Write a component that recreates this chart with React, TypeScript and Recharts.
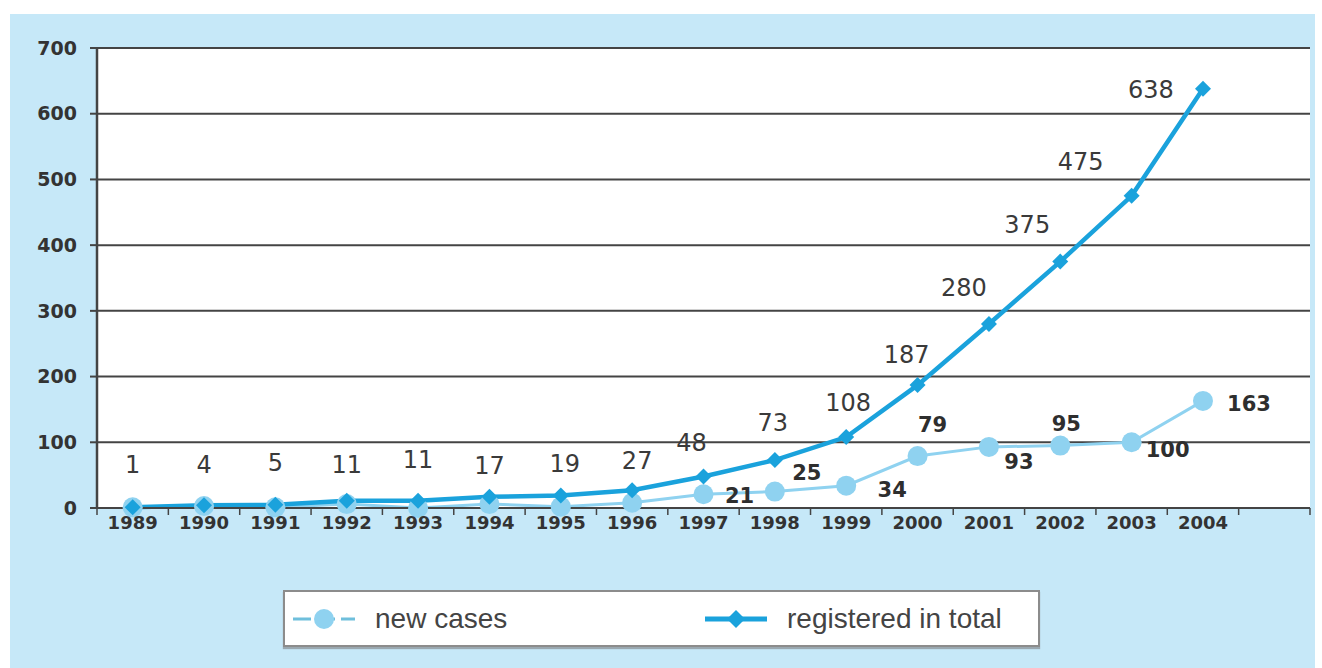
import React from 'react';
import { LineChart, Line, XAxis, YAxis, CartesianGrid, Legend, LabelList } from 'recharts';

// categories (last slot is an empty band, as in the original chart)
const years = ['1989', '1990', '1991', '1992', '1993', '1994', '1995', '1996', '1997', '1998', '1999', '2000', '2001', '2002', '2003', '2004', ''];
const registeredTotal = [1, 4, 5, 11, 11, 17, 19, 27, 48, 73, 108, 187, 280, 375, 475, 638];
const newCases = [1, 3, 1, 6, 0, 6, 2, 8, 21, 25, 34, 79, 93, 95, 100, 163];
const yTicks = [0, 100, 200, 300, 400, 500, 600, 700];
const firstLabelledNewCase = 8; // labels for new cases start at 1997

// label placement (dx, dy from the point)
const totalLabelOffsets = [
  [0, -42], [0, -40], [0, -42], [0, -36], [0, -41], [0, -31], [4, -32], [5, -29],
  [-12, -33], [-2, -37], [2, -34], [-11, -30], [-25, -36], [-33, -37], [-51, -34], [-52, 1],
];
const newLabelOffsets = [[36, 2], [32, -19], [46, 4], [15, -31], [30, 15], [6, -22], [36, 8], [46, 3]];

const data = years.map((year, i) => ({
  year,
  total: i < registeredTotal.length ? registeredTotal[i] : null,
  newCases: i < newCases.length ? newCases[i] : null,
}));

const W = 1322;
const H = 668;
const Y_AXIS_W = 97;
const RIGHT = 12;
const BAND_HALF = (W - Y_AXIS_W - RIGHT) / years.length / 2;

const TOTAL_COLOR = '#1aa2dc';
const NEW_COLOR = '#8fd2f0';
const AXIS_COLOR = '#444';
const TICK_FONT = '"DejaVu Sans", sans-serif';

const XTick = (props: any) => {
  const { x, y, payload, index } = props;
  return (
    <g>
      {index === 0 && <line x1={x - BAND_HALF} x2={x - BAND_HALF} y1={y - 8} y2={y - 1} stroke={AXIS_COLOR} strokeWidth={1.5} />}
      <line x1={x + BAND_HALF} x2={x + BAND_HALF} y1={y - 8} y2={y - 1} stroke={AXIS_COLOR} strokeWidth={1.5} />
      <text x={x} y={y} dy="0.71em" textAnchor="middle" fontFamily={TICK_FONT} fontWeight="bold" fontSize={18} fill="#333">
        {payload.value}
      </text>
    </g>
  );
};

const Diamond = (props: any) => {
  const { cx, cy } = props;
  if (cx == null || cy == null) return null;
  const s = 8;
  return <polygon points={`${cx},${cy - s} ${cx + s},${cy} ${cx},${cy + s} ${cx - s},${cy}`} fill={TOTAL_COLOR} />;
};

const TotalLabel = (props: any) => {
  const { x, y, index, value } = props;
  if (value == null) return null;
  const [dx, dy] = totalLabelOffsets[index];
  return (
    <text x={x + dx} y={y + dy} textAnchor="middle" dominantBaseline="central" fontFamily={TICK_FONT} fontSize={24} fill="#3a3a3a">
      {value}
    </text>
  );
};

const NewLabel = (props: any) => {
  const { x, y, index, value } = props;
  if (value == null || index < firstLabelledNewCase) return null;
  const [dx, dy] = newLabelOffsets[index - firstLabelledNewCase];
  return (
    <text x={x + dx} y={y + dy} textAnchor="middle" dominantBaseline="central" fontFamily={TICK_FONT} fontWeight="bold" fontSize={21} fill="#2e2e2e">
      {value}
    </text>
  );
};

const LegendBox = (props: any) => {
  const { payload } = props;
  return (
    <div
      style={{
        boxSizing: 'border-box',
        width: 757,
        height: 57,
        background: '#fff',
        border: '2px solid #8c8c8c',
        boxShadow: '0 2px 1px #9aa8b0',
        display: 'flex',
        alignItems: 'center',
        fontFamily: '"Liberation Sans", Arial, sans-serif',
        fontSize: 28,
        color: '#444',
      }}
    >
      {(payload || []).map((entry: any) => {
        const isTotal = entry.dataKey === 'total';
        return (
          <div key={entry.value} style={{ display: 'flex', alignItems: 'center', marginLeft: isTotal ? 0 : 8, width: isTotal ? 'auto' : 412 }}>
            <svg width={62} height={24} style={{ marginRight: 20 }}>
              {isTotal ? (
                <line x1={0} x2={62} y1={12} y2={12} stroke={TOTAL_COLOR} strokeWidth={5} />
              ) : (
                <line x1={0} x2={62} y1={12} y2={12} stroke="#6fbfdc" strokeWidth={3} strokeDasharray="18 6" />
              )}
              {isTotal ? (
                <polygon points="31,3 40,12 31,21 22,12" fill={TOTAL_COLOR} />
              ) : (
                <circle cx={31} cy={12} r={10} fill={NEW_COLOR} />
              )}
            </svg>
            <span>{entry.value}</span>
          </div>
        );
      })}
    </div>
  );
};

export default function App() {
  return (
    <div style={{ position: 'relative', width: W, height: H, background: '#fff' }}>
      <style>{'body{margin:0}'}</style>
      <div style={{ position: 'absolute', left: 10, top: 14, width: 1305, height: 654, background: '#c6e8f8' }} />
      <div style={{ position: 'absolute', left: 0, top: 0 }}>
        <LineChart width={W} height={H} data={data} margin={{ top: 48, right: RIGHT, bottom: 130, left: 0 }}>
          <CartesianGrid vertical={false} fill="#fff" stroke={AXIS_COLOR} strokeWidth={2} strokeOpacity={1} />
          <XAxis dataKey="year" scale="band" interval={0} height={30} tickLine={false} axisLine={{ stroke: AXIS_COLOR, strokeWidth: 2 }} tick={XTick} />
          <YAxis
            domain={[0, 700]}
            ticks={yTicks}
            width={Y_AXIS_W}
            tickSize={7}
            tickMargin={13}
            axisLine={{ stroke: AXIS_COLOR, strokeWidth: 2.5 }}
            tickLine={{ stroke: AXIS_COLOR, strokeWidth: 2 }}
            tick={{ fontFamily: TICK_FONT, fontWeight: 'bold', fontSize: 19, fill: '#333' }}
          />
          <YAxis yAxisId="r" orientation="right" width={0} domain={[0, 700]} tick={false} tickLine={false} axisLine={{ stroke: AXIS_COLOR, strokeWidth: 2 }} />
          <Legend layout="horizontal" verticalAlign="middle" align="center" content={LegendBox} wrapperStyle={{ left: 283, top: 590, width: 757, height: 57 }} />
          <Line
            dataKey="newCases"
            name="new cases"
            stroke={NEW_COLOR}
            strokeWidth={3}
            dot={{ r: 10, fill: NEW_COLOR, stroke: 'none' }}
            activeDot={false}
            isAnimationActive={false}
          >
            <LabelList dataKey="newCases" content={NewLabel} />
          </Line>
          <Line
            dataKey="total"
            name="registered in total"
            stroke={TOTAL_COLOR}
            strokeWidth={4.5}
            dot={Diamond}
            activeDot={false}
            isAnimationActive={false}
          >
            <LabelList dataKey="total" content={TotalLabel} />
          </Line>
        </LineChart>
      </div>
    </div>
  );
}
